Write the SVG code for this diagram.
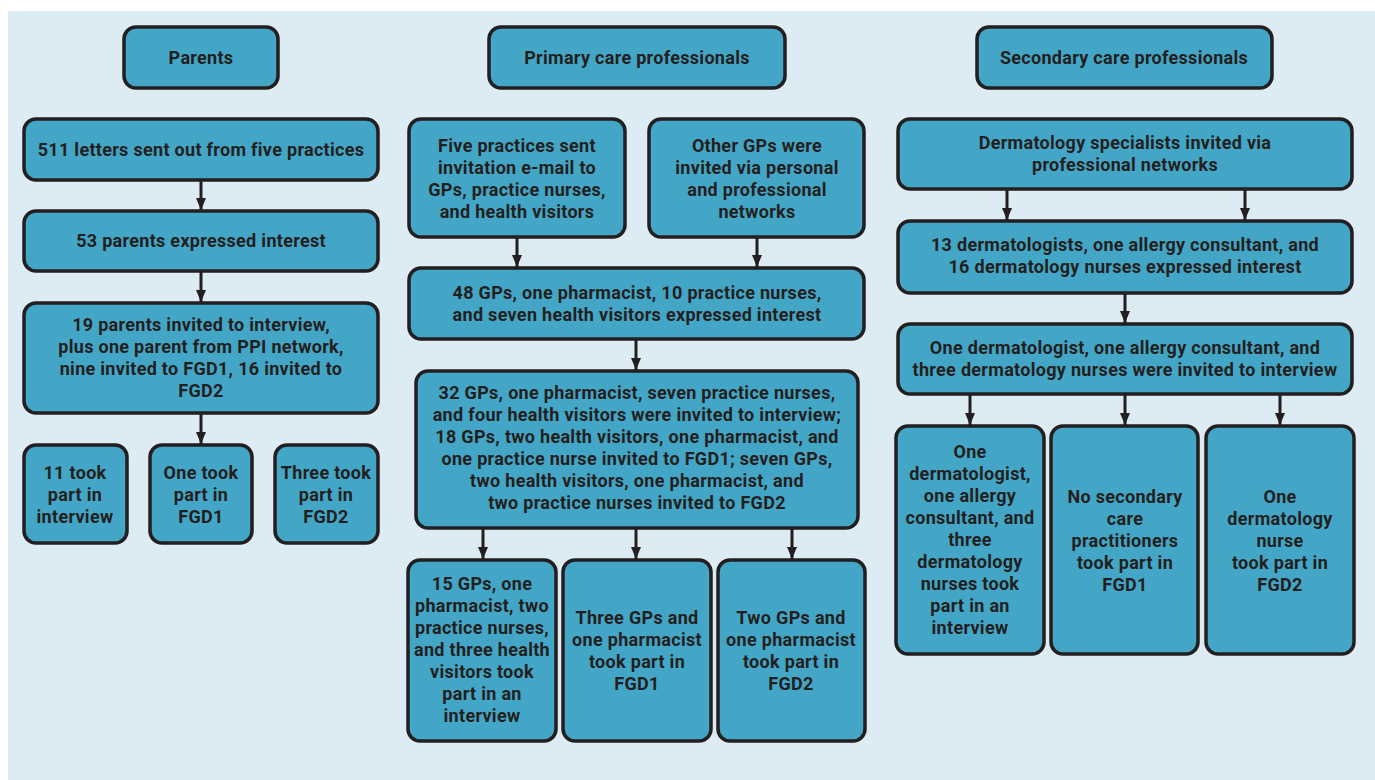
<svg xmlns="http://www.w3.org/2000/svg" width="1375" height="780" viewBox="0 0 1375 780">
<defs>
<marker id="ah" viewBox="0 0 12 10" refX="12" refY="5" markerWidth="12" markerHeight="10" markerUnits="userSpaceOnUse" orient="auto">
<path d="M0,0 L12,5 L0,10 Z" fill="#231f20"/>
</marker>
</defs>
<style>
.b{fill:#43a6c6;stroke:#231f20;stroke-width:3.5}
.t{font-family:Roboto,"Liberation Sans",sans-serif;font-weight:bold;font-size:18px;letter-spacing:0.3px;fill:#231f20;text-anchor:middle}
.c{stroke:#231f20;stroke-width:3;fill:none;marker-end:url(#ah)}
</style>
<rect x="8" y="11" width="1367" height="769" fill="#ddebf2"/>
<g id="n-parents"><rect class="b" x="124" y="27" width="154" height="61" rx="12"/><text class="t" x="201" y="64">Parents</text></g>
<g id="n-p1"><rect class="b" x="24" y="119" width="354" height="61" rx="12"/><text class="t" x="201" y="156">511 letters sent out from five practices</text></g>
<g id="n-p2"><rect class="b" x="24" y="211" width="354" height="60" rx="12"/><text class="t" x="201" y="247">53 parents expressed interest</text></g>
<g id="n-p3"><rect class="b" x="24" y="303" width="354" height="110" rx="12"/><text class="t" x="201" y="331"><tspan x="201">19 parents invited to interview,</tspan><tspan x="201" dy="22">plus one parent from PPI network,</tspan><tspan x="201" dy="22">nine invited to FGD1, 16 invited to</tspan><tspan x="201" dy="22">FGD2</tspan></text></g>
<g id="n-p4"><rect class="b" x="24" y="445" width="103" height="98" rx="12"/><text class="t" x="75" y="479"><tspan x="75">11 took</tspan><tspan x="75" dy="22">part in</tspan><tspan x="75" dy="22">interview</tspan></text></g>
<g id="n-p5"><rect class="b" x="150" y="445" width="102" height="98" rx="12"/><text class="t" x="201" y="479"><tspan x="201">One took</tspan><tspan x="201" dy="22">part in</tspan><tspan x="201" dy="22">FGD1</tspan></text></g>
<g id="n-p6"><rect class="b" x="275" y="445" width="103" height="98" rx="12"/><text class="t" x="326" y="479"><tspan x="326">Three took</tspan><tspan x="326" dy="22">part in</tspan><tspan x="326" dy="22">FGD2</tspan></text></g>

<g id="n-primary"><rect class="b" x="489" y="27" width="296" height="61" rx="12"/><text class="t" x="637" y="64">Primary care professionals</text></g>
<g id="n-q1"><rect class="b" x="409" y="119" width="216" height="118" rx="12"/><text class="t" x="517" y="152"><tspan x="517">Five practices sent</tspan><tspan x="517" dy="22">invitation e-mail to</tspan><tspan x="517" dy="22">GPs, practice nurses,</tspan><tspan x="517" dy="22">and health visitors</tspan></text></g>
<g id="n-q2"><rect class="b" x="649" y="119" width="215" height="118" rx="12"/><text class="t" x="757" y="152"><tspan x="757">Other GPs were</tspan><tspan x="757" dy="22">invited via personal</tspan><tspan x="757" dy="22">and professional</tspan><tspan x="757" dy="22">networks</tspan></text></g>
<g id="n-q3"><rect class="b" x="409" y="268" width="455" height="71" rx="12"/><text class="t" x="637" y="299"><tspan x="637">48 GPs, one pharmacist, 10 practice nurses,</tspan><tspan x="637" dy="22">and seven health visitors expressed interest</tspan></text></g>
<g id="n-q4"><rect class="b" x="416" y="371" width="442" height="157" rx="12"/><text class="t" x="637" y="399"><tspan x="637">32 GPs, one pharmacist, seven practice nurses,</tspan><tspan x="637" dy="22">and four health visitors were invited to interview;</tspan><tspan x="637" dy="22">18 GPs, two health visitors, one pharmacist, and</tspan><tspan x="637" dy="22">one practice nurse invited to FGD1; seven GPs,</tspan><tspan x="637" dy="22">two health visitors, one pharmacist, and</tspan><tspan x="637" dy="22">two practice nurses invited to FGD2</tspan></text></g>
<g id="n-q5"><rect class="b" x="408" y="560" width="148" height="181" rx="12"/><text class="t" x="482" y="590"><tspan x="482">15 GPs, one</tspan><tspan x="482" dy="22">pharmacist, two</tspan><tspan x="482" dy="22">practice nurses,</tspan><tspan x="482" dy="22">and three health</tspan><tspan x="482" dy="22">visitors took</tspan><tspan x="482" dy="22">part in an</tspan><tspan x="482" dy="22">interview</tspan></text></g>
<g id="n-q6"><rect class="b" x="563" y="560" width="148" height="181" rx="12"/><text class="t" x="637" y="624"><tspan x="637">Three GPs and</tspan><tspan x="637" dy="22">one pharmacist</tspan><tspan x="637" dy="22">took part in</tspan><tspan x="637" dy="22">FGD1</tspan></text></g>
<g id="n-q7"><rect class="b" x="718" y="560" width="147" height="181" rx="12"/><text class="t" x="791" y="624"><tspan x="791">Two GPs and</tspan><tspan x="791" dy="22">one pharmacist</tspan><tspan x="791" dy="22">took part in</tspan><tspan x="791" dy="22">FGD2</tspan></text></g>

<g id="n-secondary"><rect class="b" x="977" y="27" width="295" height="61" rx="12"/><text class="t" x="1124" y="64">Secondary care professionals</text></g>
<g id="n-s1"><rect class="b" x="898" y="119" width="454" height="70" rx="12"/><text class="t" x="1125" y="149"><tspan x="1125">Dermatology specialists invited via</tspan><tspan x="1125" dy="22">professional networks</tspan></text></g>
<g id="n-s2"><rect class="b" x="898" y="221" width="454" height="72" rx="12"/><text class="t" x="1125" y="251"><tspan x="1125">13 dermatologists, one allergy consultant, and</tspan><tspan x="1125" dy="22">16 dermatology nurses expressed interest</tspan></text></g>
<g id="n-s3"><rect class="b" x="898" y="324" width="454" height="70" rx="12"/><text class="t" x="1125" y="354"><tspan x="1125">One dermatologist, one allergy consultant, and</tspan><tspan x="1125" dy="22">three dermatology nurses were invited to interview</tspan></text></g>
<g id="n-s4"><rect class="b" x="896" y="426" width="148" height="228" rx="12"/><text class="t" x="970" y="458"><tspan x="970">One</tspan><tspan x="970" dy="22">dermatologist,</tspan><tspan x="970" dy="22">one allergy</tspan><tspan x="970" dy="22">consultant, and</tspan><tspan x="970" dy="22">three</tspan><tspan x="970" dy="22">dermatology</tspan><tspan x="970" dy="22">nurses took</tspan><tspan x="970" dy="22">part in an</tspan><tspan x="970" dy="22">interview</tspan></text></g>
<g id="n-s5"><rect class="b" x="1051" y="426" width="147" height="228" rx="12"/><text class="t" x="1125" y="503"><tspan x="1125">No secondary</tspan><tspan x="1125" dy="22">care</tspan><tspan x="1125" dy="22">practitioners</tspan><tspan x="1125" dy="22">took part in</tspan><tspan x="1125" dy="22">FGD1</tspan></text></g>
<g id="n-s6"><rect class="b" x="1206" y="426" width="148" height="228" rx="12"/><text class="t" x="1280" y="503"><tspan x="1280">One</tspan><tspan x="1280" dy="22">dermatology</tspan><tspan x="1280" dy="22">nurse</tspan><tspan x="1280" dy="22">took part in</tspan><tspan x="1280" dy="22">FGD2</tspan></text></g>

<g id="connectors">
<line class="c" x1="201" y1="180" x2="201" y2="210"/>
<line class="c" x1="201" y1="271" x2="201" y2="302"/>
<line class="c" x1="201" y1="413" x2="201" y2="444"/>
<line class="c" x1="517" y1="237" x2="517" y2="267"/>
<line class="c" x1="757" y1="237" x2="757" y2="267"/>
<line class="c" x1="636" y1="339" x2="636" y2="370"/>
<line class="c" x1="483" y1="528" x2="483" y2="559"/>
<line class="c" x1="636" y1="528" x2="636" y2="559"/>
<line class="c" x1="792" y1="528" x2="792" y2="559"/>
<line class="c" x1="1007" y1="189" x2="1007" y2="220"/>
<line class="c" x1="1245" y1="189" x2="1245" y2="220"/>
<line class="c" x1="1125" y1="293" x2="1125" y2="323"/>
<line class="c" x1="970" y1="394" x2="970" y2="425"/>
<line class="c" x1="1125" y1="394" x2="1125" y2="425"/>
<line class="c" x1="1280" y1="394" x2="1280" y2="425"/>
</g>
</svg>
